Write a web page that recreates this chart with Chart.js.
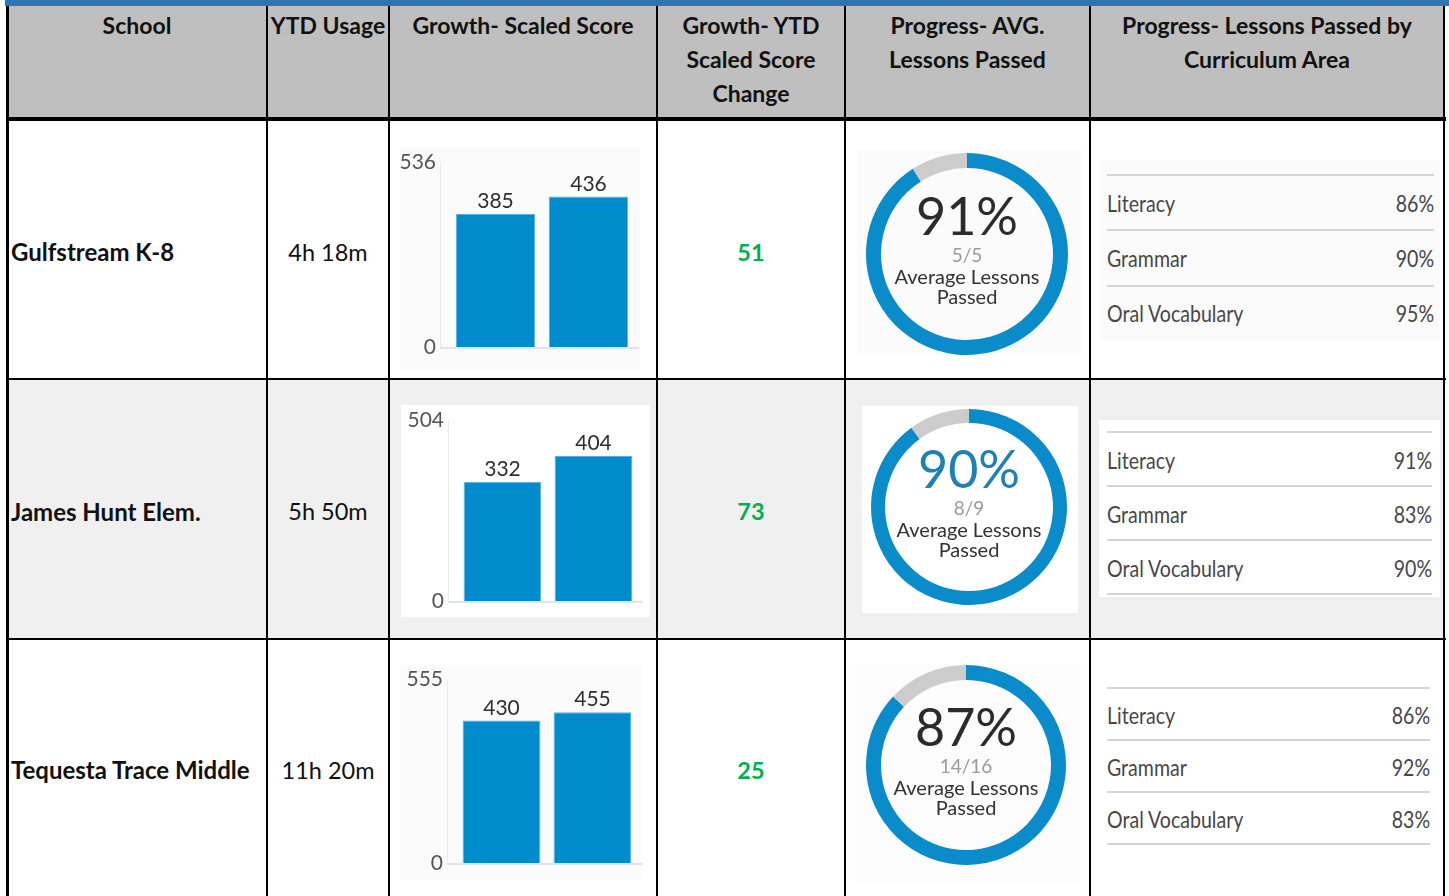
<!DOCTYPE html>
<html>
<head>
<meta charset="utf-8">
<script src="https://cdn.jsdelivr.net/npm/chart.js@4.4.1/dist/chart.umd.min.js"></script>
<style>
body { margin: 0; width: 1449px; height: 896px; overflow: hidden; background: #fff; font-family: Lato, sans-serif; }
.abs { position: absolute; }
.blk { position: absolute; background: #000; }
.hd { position: absolute; top: 8px; text-align: center; font-weight: bold; font-size: 23px; line-height: 34px; color: #111; }
.cell { position: absolute; display: flex; align-items: center; font-size: 23.5px; color: #111; }
.cur-line { position: absolute; height: 2px; background: #d5d5d5; }
.cur-txt { position: absolute; font-size: 23px; color: #474747; line-height: 28px; white-space: nowrap; }
</style>
</head>
<body>
<div id="page"></div>
<script>
// data
const schools = ["Gulfstream K-8", "James Hunt Elem.", "Tequesta Trace Middle"];
const ytdUsage = ["4h 18m", "5h 50m", "11h 20m"];
const scoreLabels = ["Start", "Current"];
const scoreStart = [385, 332, 430];
const scoreCurrent = [436, 404, 455];
const scoreAxisMax = [536, 504, 555];
const scoreChange = [51, 73, 25];
const avgPassedPct = [91, 90, 87];
const avgPassedCount = ["5/5", "8/9", "14/16"];
const curriculumAreas = ["Literacy", "Grammar", "Oral Vocabulary"];
const literacyPct = [86, 91, 86];
const grammarPct = [90, 83, 92];
const oralVocabPct = [95, 90, 83];

const headers = [
    ["School"], ["YTD Usage"], ["Growth- Scaled Score"],
    ["Growth- YTD", "Scaled Score", "Change"],
    ["Progress- AVG.", "Lessons Passed"],
    ["Progress- Lessons Passed by", "Curriculum Area"]
];

// layout
const colX = [7, 267, 389, 657, 845, 1090, 1444];
const rowY = [120, 379, 639, 896];
const barBox = [
    { l: 400, t: 148, w: 240, h: 222, yw: 49, pt: 14, pr: 5, pb: 23, bg: "#fbfbfb" },
    { l: 401, t: 405, w: 249, h: 212, yw: 56, pt: 15, pr: 11, pb: 16, bg: "#ffffff" },
    { l: 400, t: 667, w: 242, h: 212, yw: 56, pt: 12, pr: 4, pb: 16, bg: "#fbfbfb" }
];
const donutBox = [
    { l: 857, t: 150, w: 226, h: 205, cx: 967, cy: 254, r: 101, th: 15, bg: "#fbfbfb", pctColor: "#2b2b2b" },
    { l: 862, t: 406, w: 216, h: 207, cx: 969, cy: 507, r: 98, th: 14, bg: "#ffffff", pctColor: "#1f80b5" },
    { l: 855, t: 664, w: 226, h: 218, cx: 966, cy: 765, r: 100, th: 15, bg: "#fcfcfc", pctColor: "#2b2b2b" }
];
const curBox = [
    { l: 1100, t: 160, w: 340, h: 180, bg: "#fbfbfb", lines: [175, 230, 286], text: [203, 258, 313], x0: 1107, x1: 1434 },
    { l: 1099, t: 420, w: 341, h: 177, bg: "#ffffff", lines: [432, 486, 540, 594], text: [460, 514, 568], x0: 1107, x1: 1432 },
    { l: 1100, t: 675, w: 340, h: 175, bg: "#ffffff", lines: [688, 740, 792, 844], text: [715, 767, 819], x0: 1107, x1: 1430 }
];

const page = document.getElementById("page");
function add(cls, css, html) {
    const d = document.createElement("div");
    d.className = cls;
    Object.assign(d.style, css);
    if (html !== undefined) d.innerHTML = html;
    page.appendChild(d);
    return d;
}

// table background + grid
add("abs", { left: "5px", top: "0px", width: "1444px", height: "6px", background: "#2e75b6" });
add("abs", { left: "7px", top: "6px", width: "1437px", height: "113px", background: "#bfbfbf" });
add("abs", { left: "8px", top: rowY[1] + "px", width: "1436px", height: (rowY[2] - rowY[1]) + "px", background: "#f0f0f0" });

headers.forEach((lines, c) => {
    add("hd", { left: colX[c] + "px", width: (colX[c + 1] - colX[c]) + "px" }, lines.join("<br>"));
});

schools.forEach((name, i) => {
    const top = rowY[i] + 2, h = rowY[i + 1] - rowY[i];
    add("cell", { left: "11px", top: top + "px", height: h + "px", fontWeight: "bold", fontSize: "24px" }, name);
    add("cell", { left: colX[1] + "px", width: (colX[2] - colX[1]) + "px", top: top + "px", height: h + "px", justifyContent: "center" }, ytdUsage[i]);
    add("cell", { left: colX[3] + "px", width: (colX[4] - colX[3]) + "px", top: top + "px", height: h + "px", justifyContent: "center", fontWeight: "bold", color: "#00b050" }, scoreChange[i]);
});

colX.forEach((x, c) => {
    add("blk", { left: (x - 1) + "px", top: "6px", width: (c === 0 ? 3 : 2) + "px", height: "890px" });
});
add("blk", { left: "6px", top: "117px", width: "1440px", height: "4px" });
add("blk", { left: "6px", top: "378px", width: "1440px", height: "2px" });
add("blk", { left: "6px", top: "638px", width: "1440px", height: "2px" });

// bar chart helpers: axis lines and the two tick labels (0 and max)
const barAxes = {
    id: "barAxes",
    beforeDatasetsDraw(chart) {
        const ctx = chart.ctx, y = chart.scales.y, area = chart.chartArea;
        const x0 = area.left - 9;
        const yTop = y.getPixelForValue(y.max), yBase = y.getPixelForValue(0);
        ctx.save();
        ctx.strokeStyle = "#ebebeb";
        ctx.lineWidth = 1;
        ctx.beginPath(); ctx.moveTo(x0 + 0.5, yTop); ctx.lineTo(x0 + 0.5, yBase); ctx.stroke();
        ctx.strokeStyle = "#e4e4e4";
        ctx.lineWidth = 2;
        ctx.beginPath(); ctx.moveTo(x0, yBase + 1); ctx.lineTo(area.right + 4, yBase + 1); ctx.stroke();
        ctx.font = "21px Lato";
        ctx.fillStyle = "#555";
        ctx.textAlign = "right";
        ctx.textBaseline = "middle";
        y.ticks.forEach(t => ctx.fillText(t.value, area.left - 13, y.getPixelForValue(t.value)));
        ctx.restore();
    }
};
const barLabels = {
    id: "barLabels",
    afterDatasetsDraw(chart) {
        const ctx = chart.ctx;
        const meta = chart.getDatasetMeta(0);
        const vals = chart.data.datasets[0].data;
        ctx.save();
        ctx.font = "21px Lato";
        ctx.fillStyle = "#2e2e2e";
        ctx.textAlign = "center";
        ctx.textBaseline = "bottom";
        meta.data.forEach((bar, j) => ctx.fillText(vals[j], bar.x, bar.y - 2));
        ctx.restore();
    }
};
const donutCenter = {
    id: "donutCenter",
    afterDraw(chart, args, opts) {
        const ctx = chart.ctx, a = chart.chartArea;
        const cx = (a.left + a.right) / 2, cy = (a.top + a.bottom) / 2;
        ctx.save();
        ctx.textAlign = "center";
        ctx.textBaseline = "middle";
        ctx.fillStyle = opts.pctColor;
        ctx.font = "52px Lato";
        ctx.fillText(opts.pct + "%", cx, cy - 36);
        ctx.fillStyle = "#9a9a9a";
        ctx.font = "19px Lato";
        ctx.fillText(opts.count, cx, cy + 2);
        ctx.fillStyle = "#333";
        ctx.font = "20px Lato";
        ctx.fillText("Average Lessons", cx, cy + 24);
        ctx.fillText("Passed", cx, cy + 44);
        ctx.restore();
    }
};

function canvasIn(box) {
    const holder = add("abs", { left: box.l + "px", top: box.t + "px", width: box.w + "px", height: box.h + "px", background: box.bg });
    const cv = document.createElement("canvas");
    cv.width = box.w;
    cv.height = box.h;
    holder.appendChild(cv);
    return cv;
}

schools.forEach((name, i) => {
    // growth bars
    const B = barBox[i];
    new Chart(canvasIn(B), {
        type: "bar",
        data: {
            labels: scoreLabels,
            datasets: [{
                data: [scoreStart[i], scoreCurrent[i]],
                backgroundColor: "#008ccc",
                borderColor: "#59b3e2",
                borderWidth: 1,
                categoryPercentage: 1,
                barPercentage: 0.855
            }]
        },
        options: {
            responsive: false,
            animation: false,
            devicePixelRatio: 1,
            layout: { padding: { top: B.pt, right: B.pr, bottom: B.pb, left: 0 } },
            plugins: { legend: { display: false }, tooltip: { enabled: false } },
            scales: {
                x: {
                    grid: { display: false, drawTicks: false },
                    border: { display: false },
                    ticks: { display: false },
                    afterFit: s => { s.height = 0; }
                },
                y: {
                    min: 0,
                    max: scoreAxisMax[i],
                    grid: { display: false, drawTicks: false },
                    border: { display: false },
                    afterBuildTicks: s => { s.ticks = [{ value: 0 }, { value: scoreAxisMax[i] }]; },
                    ticks: { display: false },
                    afterFit: s => { s.width = B.yw; }
                }
            }
        },
        plugins: [barAxes, barLabels]
    });

    // average lessons passed ring
    const D = donutBox[i];
    const dx = 2 * (D.cx - (D.l + D.w / 2)), dy = 2 * (D.cy - (D.t + D.h / 2));
    new Chart(canvasIn(D), {
        type: "doughnut",
        data: {
            labels: ["Passed", "Not passed"],
            datasets: [{
                data: [avgPassedPct[i], 100 - avgPassedPct[i]],
                backgroundColor: ["#0a8bca", "#cccccc"],
                borderWidth: 0,
                hoverOffset: 0,
                offset: 0
            }]
        },
        options: {
            responsive: false,
            animation: false,
            devicePixelRatio: 1,
            radius: D.r,
            cutout: ((D.r - D.th) / D.r * 100) + "%",
            layout: { padding: { left: Math.max(dx, 0), right: Math.max(-dx, 0), top: Math.max(dy, 0), bottom: Math.max(-dy, 0) } },
            plugins: {
                legend: { display: false },
                tooltip: { enabled: false },
                donutCenter: { pct: avgPassedPct[i], count: avgPassedCount[i], pctColor: D.pctColor }
            }
        },
        plugins: [donutCenter]
    });

    // curriculum area list
    const C = curBox[i];
    add("abs", { left: C.l + "px", top: C.t + "px", width: C.w + "px", height: C.h + "px", background: C.bg });
    C.lines.forEach(y => {
        add("cur-line", { left: C.x0 + "px", top: (y - 1) + "px", width: (C.x1 - C.x0) + "px" });
    });
    const pcts = [literacyPct[i], grammarPct[i], oralVocabPct[i]];
    curriculumAreas.forEach((area, k) => {
        add("cur-txt", { left: C.x0 + "px", top: (C.text[k] - 14) + "px", transform: "scaleX(0.85)", transformOrigin: "left center" }, area);
        add("cur-txt", { right: (1449 - C.x1) + "px", top: (C.text[k] - 14) + "px", transform: "scaleX(0.85)", transformOrigin: "right center" }, pcts[k] + "%");
    });
});
</script>
</body>
</html>
